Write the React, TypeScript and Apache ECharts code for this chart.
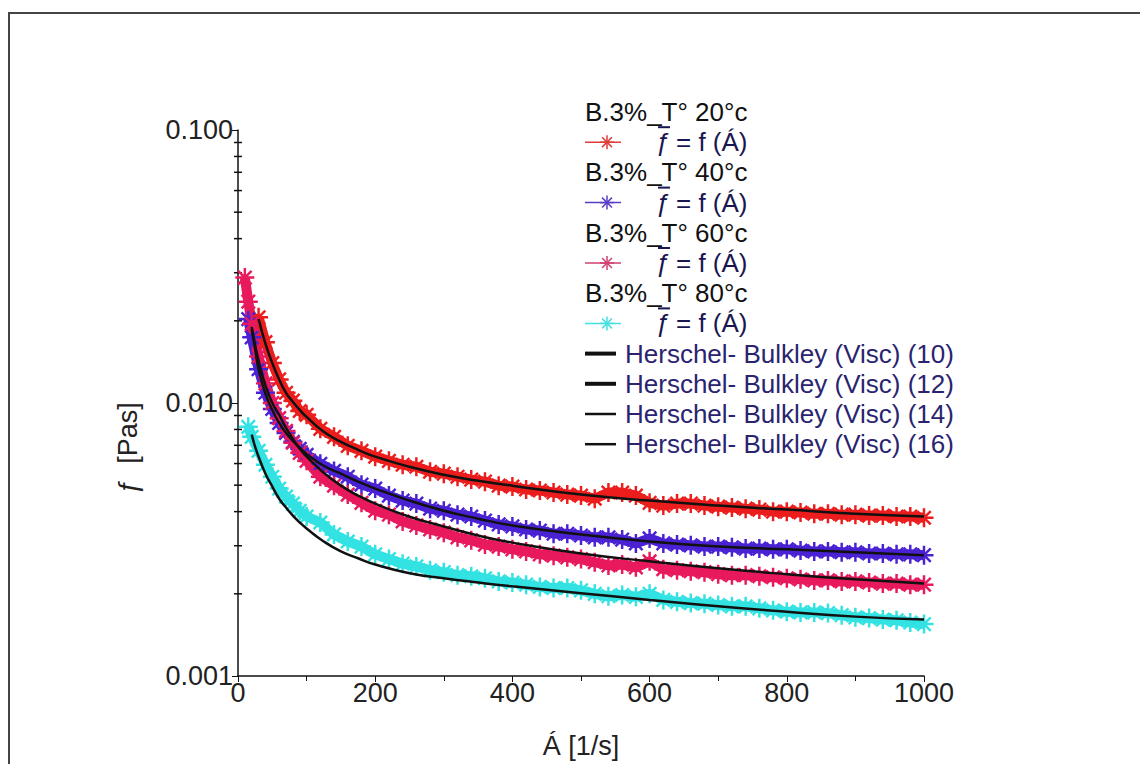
import React, { useEffect, useRef } from "react";
import * as echarts from "echarts";

// Shear rate [1/s] of the measured points
const shearRate = [
  10, 15, 20, 30, 40, 50, 60, 70, 80, 90, 100,
  120, 140, 160, 180, 200, 220, 240, 260, 280, 300,
  320, 340, 360, 380, 400, 420, 440, 460, 480, 500,
  520, 540, 560, 580, 600, 620, 640, 660, 680, 700,
  720, 740, 760, 780, 800, 820, 840, 860, 880, 900,
  920, 940, 960, 980, 1000,
];

// Measured viscosity [Pa.s], B.3% at 20, 40, 60 and 80 °C
const visc20 = [
  null, null, null, 0.0206, 0.0167, 0.014, 0.0122, 0.0109, 0.0102, 0.00935, 0.00905,
  0.00804, 0.00752, 0.00697, 0.00668, 0.00636, 0.00614, 0.00594, 0.00584, 0.0056, 0.00551,
  0.00537, 0.00524, 0.00515, 0.00498, 0.00494, 0.00482, 0.00478, 0.0047, 0.00462, 0.00458,
  0.00446, 0.0047, 0.0047, 0.00458, 0.00431, 0.00421, 0.00428, 0.00428, 0.00421, 0.00417,
  0.00414, 0.0041, 0.00407, 0.004, 0.004, 0.00397, 0.00393, 0.00393, 0.0039, 0.0039,
  0.00387, 0.00387, 0.00384, 0.00384, 0.0038,
];
const visc40 = [
  null, 0.0203, 0.0174, 0.0133, 0.0109, 0.00951, 0.00845, 0.00777, 0.00721, 0.0068, 0.00646,
  0.00599, 0.00564, 0.00537, 0.00502, 0.00486, 0.00458, 0.00439, 0.00428, 0.0041, 0.00403,
  0.0039, 0.00384, 0.00371, 0.00359, 0.00353, 0.00344, 0.00341, 0.00332, 0.00332, 0.00327,
  0.00322, 0.00322, 0.00316, 0.00306, 0.00319, 0.00306, 0.00303, 0.00301, 0.00298, 0.00298,
  0.00296, 0.00293, 0.00293, 0.00291, 0.00291, 0.00288, 0.00286, 0.00286, 0.00284, 0.00284,
  0.00281, 0.00281, 0.00279, 0.00279, 0.00277,
];
const visc60 = [
  0.0288, 0.0235, 0.0195, 0.0148, 0.0118, 0.01, 0.0088, 0.0079, 0.00715, 0.00657, 0.00614,
  0.00537, 0.00498, 0.00462, 0.00431, 0.00403, 0.0039, 0.00368, 0.00356, 0.00344, 0.00335,
  0.00322, 0.00314, 0.00303, 0.00298, 0.00291, 0.00286, 0.00279, 0.00276, 0.00272, 0.00268,
  0.00261, 0.00254, 0.00256, 0.0025, 0.00263, 0.00246, 0.00244, 0.00242, 0.0024, 0.00236,
  0.00234, 0.00234, 0.00232, 0.0023, 0.00228, 0.00226, 0.00224, 0.00224, 0.00222, 0.00222,
  0.0022, 0.00218, 0.00218, 0.00216, 0.00216,
];
const visc80 = [
  null, 0.00818, 0.00752, 0.00668, 0.00594, 0.00537, 0.00486, 0.00454, 0.00428, 0.00403, 0.00384,
  0.00365, 0.0033, 0.00311, 0.00298, 0.00279, 0.00268, 0.00258, 0.00252, 0.00244, 0.0024,
  0.00234, 0.00232, 0.00228, 0.00222, 0.0022, 0.00216, 0.00212, 0.0021, 0.0021, 0.00206,
  0.002, 0.00196, 0.00198, 0.00195, 0.002, 0.0019, 0.00187, 0.00185, 0.00184, 0.00182,
  0.0018, 0.0018, 0.00177, 0.00174, 0.00172, 0.00171, 0.00171, 0.0017, 0.00167, 0.00164,
  0.00163, 0.00161, 0.0016, 0.00157, 0.00155,
];

// Herschel-Bulkley fitted curves
const fitRate = [20, 25, 30, 40, 50, 60, 70, 80, 90, 100, 125, 150, 175, 200, 250, 300, 350, 400, 500, 600, 700, 800, 900, 1000];
const hb10 = [null, null, 0.0203, 0.0165, 0.014, 0.0122, 0.0109, 0.0101, 0.00943, 0.00889, 0.00784, 0.00721, 0.00674, 0.00636, 0.00584, 0.00546, 0.00519, 0.00498, 0.00462, 0.00439, 0.00421, 0.00407, 0.00393, 0.00384];
const hb12 = [0.0186, 0.0157, 0.0133, 0.0108, 0.00943, 0.00845, 0.00777, 0.00727, 0.00686, 0.00651, 0.00589, 0.00551, 0.00515, 0.00486, 0.00439, 0.00403, 0.00377, 0.00356, 0.0033, 0.00311, 0.00298, 0.00291, 0.00284, 0.00277];
const hb14 = [0.019, 0.0163, 0.0143, 0.0116, 0.01, 0.00904, 0.00811, 0.00739, 0.0068, 0.00636, 0.00555, 0.00498, 0.00458, 0.00428, 0.00383, 0.00353, 0.00327, 0.00308, 0.00281, 0.00263, 0.00248, 0.00236, 0.00226, 0.00218];
const hb16 = [0.00766, 0.00691, 0.00636, 0.00551, 0.00494, 0.00446, 0.00414, 0.00387, 0.00365, 0.00347, 0.00311, 0.00286, 0.0027, 0.00256, 0.00238, 0.00228, 0.0022, 0.00213, 0.00201, 0.0019, 0.0018, 0.00172, 0.00165, 0.00161];

const sampleNames = ["B.3%_T° 20°c", "B.3%_T° 40°c", "B.3%_T° 60°c", "B.3%_T° 80°c"];
const sampleColors = ["#ec1d1d", "#4a22d4", "#e8195c", "#33e2e2"];
const legendStarColors = ["#e03a3a", "#5a3cc8", "#d04070", "#45e0e0"];
const fitNames = [
  "Herschel- Bulkley (Visc) (10)",
  "Herschel- Bulkley (Visc) (12)",
  "Herschel- Bulkley (Visc) (14)",
  "Herschel- Bulkley (Visc) (16)",
];
const fitLegendWidths = [4, 4, 2.5, 2.5];

const FONT = "'Liberation Sans', Arial, sans-serif";

// eight-spoke asterisk marker
const STAR =
  "path://M-1.3,-10L1.3,-10L1.3,10L-1.3,10Z M-10,-1.3L10,-1.3L10,1.3L-10,1.3Z M-6.15,-7.99L7.99,6.15L6.15,7.99L-7.99,-6.15Z M-7.99,6.15L6.15,-7.99L7.99,-6.15L-6.15,7.99Z";

function pairs(xs: number[], ys: (number | null)[]) {
  const out: [number, number][] = [];
  xs.forEach((x, i) => {
    const y = ys[i];
    if (y != null) out.push([x, y]);
  });
  return out;
}

export default function App() {
  const ref = useRef<HTMLDivElement>(null);

  useEffect(() => {
    if (!ref.current) return;
    const chart = echarts.init(ref.current, undefined, { renderer: "svg" });
    const measured = [visc20, visc40, visc60, visc80];
    const fits = [hb10, hb12, hb14, hb16];

    const series: any[] = [];
    measured.forEach((arr, i) => {
      series.push({
        name: sampleNames[i],
        type: "line",
        data: pairs(shearRate, arr),
        symbol: STAR,
        symbolSize: 19,
        showSymbol: true,
        lineStyle: { color: sampleColors[i], width: 10 },
        itemStyle: { color: sampleColors[i] },
        z: 2,
      });
    });
    fits.forEach((arr, i) => {
      series.push({
        name: fitNames[i],
        type: "line",
        data: pairs(fitRate, arr),
        smooth: true,
        showSymbol: false,
        symbol: "none",
        lineStyle: { color: "#111", width: 2.5 },
        z: 5,
      });
    });

    chart.setOption({
      animation: false,
      backgroundColor: "#fff",
      grid: { left: 238, right: 216, top: 130, bottom: 86, containLabel: false },
      xAxis: {
        type: "value",
        min: 0,
        max: 1000,
        interval: 200,
        name: "Á [1/s]",
        nameLocation: "middle",
        nameGap: 56,
        nameTextStyle: { fontSize: 27, color: "#222", fontFamily: FONT },
        axisLine: { lineStyle: { color: "#111", width: 1.5 } },
        axisTick: { length: 6, lineStyle: { color: "#111" } },
        minorTick: { show: true, splitNumber: 2, length: 5, lineStyle: { color: "#111" } },
        axisLabel: {
          fontSize: 27,
          color: "#222",
          fontFamily: FONT,
          margin: 3,
          formatter: (v: number) => String(v),
        },
        splitLine: { show: false },
      },
      yAxis: {
        type: "log",
        logBase: 10,
        min: 0.001,
        max: 0.1,
        axisLine: { show: true, lineStyle: { color: "#111", width: 1.5 } },
        axisTick: { show: true, length: 6, lineStyle: { color: "#111" } },
        axisLabel: {
          fontSize: 27,
          color: "#222",
          fontFamily: FONT,
          margin: 5,
          formatter: (v: number) => v.toFixed(3),
        },
        splitLine: { show: false },
      },
      series,
    });

    // minor ticks at 2..9 of each decade, placed through the axis scale
    const x0 = chart.convertToPixel({ xAxisIndex: 0 }, 0) as number;
    const elements: any[] = [];
    [0.001, 0.01].forEach((dec) => {
      for (let k = 2; k <= 9; k++) {
        const py = chart.convertToPixel({ yAxisIndex: 0 }, k * dec) as number;
        elements.push({
          type: "line",
          shape: { x1: x0 - 4, y1: py, x2: x0 + 4, y2: py },
          style: { stroke: "#111", lineWidth: 1.5 },
        });
      }
    });

    // outer frame
    elements.push({
      type: "polyline",
      shape: { points: [[9, 764], [9, 13], [1140, 13]] },
      style: { stroke: "#444", lineWidth: 2, fill: null },
    });

    // y axis title
    elements.push({
      type: "text",
      x: 128,
      y: 448,
      rotation: Math.PI / 2,
      style: {
        text: "ƒ  [Pas]",
        fontSize: 27,
        fontFamily: FONT,
        fill: "#222",
        align: "center",
        verticalAlign: "middle",
      },
    });

    // legend
    const rowStart = 112;
    const rowStep = 30.2;
    const lx = 585;
    const star = (cx: number, cy: number, color: string) => {
      const r = 7;
      const d = r * 0.7071;
      return [
        [cx - r, cy, cx + r, cy],
        [cx, cy - r, cx, cy + r],
        [cx - d, cy - d, cx + d, cy + d],
        [cx - d, cy + d, cx + d, cy - d],
      ].map((s) => ({
        type: "line",
        shape: { x1: s[0], y1: s[1], x2: s[2], y2: s[3] },
        style: { stroke: color, lineWidth: 1.5 },
      }));
    };
    sampleNames.forEach((nm, i) => {
      const yh = rowStart + rowStep * 2 * i;
      const ys = yh + rowStep;
      elements.push({
        type: "text",
        x: lx,
        y: yh,
        style: { text: nm, fontSize: 26, fontFamily: FONT, fill: "#111", align: "left", verticalAlign: "middle" },
      });
      elements.push({
        type: "line",
        shape: { x1: lx, y1: ys, x2: lx + 36, y2: ys },
        style: { stroke: legendStarColors[i], lineWidth: 1.5 },
      });
      elements.push(...star(lx + 22, ys, legendStarColors[i]));
      elements.push({
        type: "text",
        x: 655,
        y: ys,
        style: {
          text: "ƒ",
          fontSize: 26,
          fontFamily: FONT,
          fontStyle: "italic",
          fill: "#1a1650",
          align: "left",
          verticalAlign: "middle",
        },
      });
      elements.push({
        type: "line",
        shape: { x1: 658, y1: ys - 15, x2: 670, y2: ys - 15 },
        style: { stroke: "#1a1650", lineWidth: 2 },
      });
      elements.push({
        type: "text",
        x: 676,
        y: ys,
        style: { text: "= f (Á)", fontSize: 26, fontFamily: FONT, fill: "#1a1650", align: "left", verticalAlign: "middle" },
      });
    });
    fitNames.forEach((nm, i) => {
      const y = rowStart + rowStep * (8 + i);
      elements.push({
        type: "line",
        shape: { x1: lx, y1: y, x2: lx + 31, y2: y },
        style: { stroke: "#111", lineWidth: fitLegendWidths[i] },
      });
      elements.push({
        type: "text",
        x: 625,
        y,
        style: { text: nm, fontSize: 26, fontFamily: FONT, fill: "#2a2470", align: "left", verticalAlign: "middle" },
      });
    });

    chart.setOption({ graphic: { elements } });

    return () => chart.dispose();
  }, []);

  return (
    <div
      ref={ref}
      style={{ position: "fixed", left: 0, top: 0, width: 1140, height: 764, background: "#fff" }}
    />
  );
}
